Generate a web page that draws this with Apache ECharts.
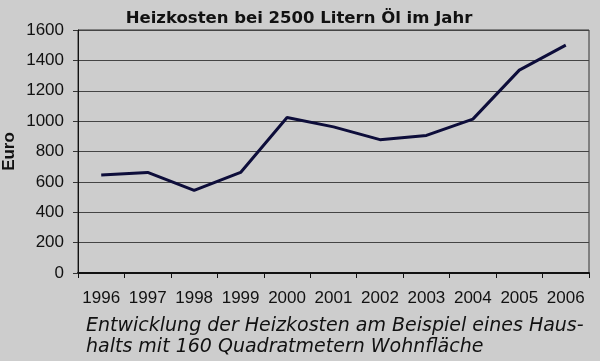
<!DOCTYPE html>
<html><head><meta charset="utf-8">
<script src="https://cdn.jsdelivr.net/npm/echarts@6/dist/echarts.min.js"></script>
<style>html,body{margin:0;padding:0;background:#cdcdcd}#c{width:600px;height:361px}</style>
</head><body><div id="c"></div>
<script>
const years = ['1996','1997','1998','1999','2000','2001','2002','2003','2004','2005','2006'];
const costs = [645, 662, 544, 662, 1024, 962, 878, 906, 1013, 1336, 1500];
const titleText = 'Heizkosten bei 2500 Litern Öl im Jahr';
const yName = 'Euro';
const caption = 'Entwicklung der Heizkosten am Beispiel eines Haus-\nhalts mit 160 Quadratmetern Wohnfläche';

const chart = echarts.init(document.getElementById('c'));
chart.setOption({
  backgroundColor: '#cdcdcd',
  animation: false,
  title: {
    text: titleText, left: 294, top: 5, textAlign: 'center',
    textStyle: {fontFamily: 'DejaVu Sans', fontWeight: 'bold', fontSize: 16.5, color: '#111'}
  },
  grid: {left: 78, top: 30, right: 11, bottom: 88, outerBoundsMode: 'none', containLabel: false,
    show: true, borderColor: '#333', borderWidth: 1, backgroundColor: 'transparent'},
  xAxis: {
    type: 'category', data: years, boundaryGap: true,
    axisLine: {lineStyle: {color: '#111', width: 2}},
    axisTick: {show: true, length: 5, lineStyle: {color: '#111'}},
    axisLabel: {fontFamily: 'Liberation Sans', fontSize: 17, color: '#111', margin: 17,
      interval: 0, hideOverlap: false}
  },
  yAxis: {
    type: 'value', min: 0, max: 1600, interval: 200,
    name: yName, nameLocation: 'middle', nameGap: 60, nameMoveOverlap: false,
    nameTextStyle: {fontFamily: 'Liberation Sans', fontWeight: 'bold', fontSize: 17, color: '#111'},
    axisLine: {show: true, lineStyle: {color: '#111', width: 1}},
    axisTick: {show: true, length: 5, lineStyle: {color: '#333'}},
    splitLine: {lineStyle: {color: '#444', width: 1}},
    axisLabel: {fontFamily: 'Liberation Sans', fontSize: 17, color: '#111', margin: 14,
      formatter: v => String(v)}
  },
  series: [{
    type: 'line', data: costs, symbol: 'none',
    lineStyle: {color: '#0d0d3a', width: 3}
  }],
  graphic: [{
    type: 'text', left: 86, top: 316,
    style: {text: caption, fontFamily: 'DejaVu Sans', fontStyle: 'italic', fontSize: 19, lineHeight: 21, fill: '#111'}
  }]
});
</script></body></html>
